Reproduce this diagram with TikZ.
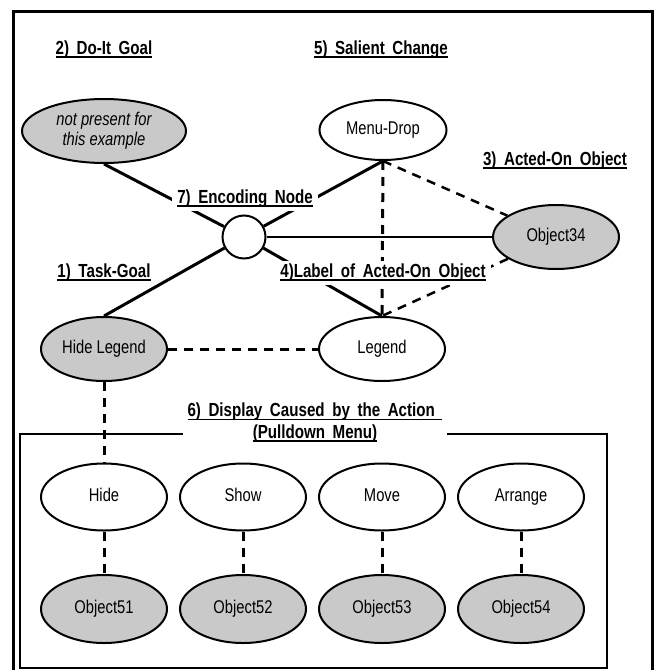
\documentclass[tikz,border=0pt]{standalone}
\usepackage{fontspec}
\setmainfont{Liberation Sans}[FakeStretch=0.8]
\newfontfamily\tagfont{Liberation Sans}[FakeStretch=0.8,WordSpace=1.8]
\usetikzlibrary{shapes.geometric,positioning}
\newcommand\tagline[1]{\setbox0\hbox{#1}\rlap{\rule[-3bp]{\wd0}{1.4bp}}\box0}
\tikzset{
  oval base/.style={ellipse,draw,line width=2bp,minimum width=126bp,minimum height=64bp,inner sep=0pt,align=center,font=\fontsize{18.5}{21}\selectfont},
  oval/.style={oval base,text height=13bp,text depth=4bp},
  grey oval/.style={oval,fill=black!21},
  white oval/.style={oval,fill=white},
  enc node/.style={circle,draw,fill=white,line width=2bp,minimum size=43bp,inner sep=0pt},
  tag/.style={fill=white,inner xsep=5bp,inner ysep=3bp,align=center,font=\tagfont\bfseries\fontsize{19}{22}\selectfont},
  link/.style={line width=3bp},
  dlink/.style={line width=3bp,dash pattern=on 9bp off 7bp},
}

\begin{document}
\begin{tikzpicture}[x=1bp,y=-1bp]
	\useasboundingbox (0,0) rectangle (655,670);
	\draw[line width=3bp] (13,12) rectangle (652,690);
	\draw[line width=2bp] (20,434) rectangle (607,668);

	\node[oval base,fill=black!21,minimum width=164bp,font=\fontsize{18.5}{20.5}\selectfont\itshape] (doit) at (104,131) {not present for\\ this example};
	\node[white oval,minimum width=127bp,minimum height=60bp] (menudrop) at (383,130) {Menu-Drop};
	\node[enc node] (enc) at (244,237) {};
	\node[grey oval] (obj34) at (556,237) {Object34};
	\node[grey oval] (hidelegend) at (104,349) {Hide Legend};
	\node[white oval] (legend) at (382,349) {Legend};

	\node[white oval,minimum height=67bp] (hide) at (104,497) {Hide};
	\node[white oval,minimum height=67bp] (show) at (243,497) {Show};
	\node[white oval,minimum height=67bp] (move) at (382,497) {Move};
	\node[white oval,minimum height=67bp] (arrange) at (521,497) {Arrange};
	\node[grey oval,minimum height=68bp] (obj51) at (104,609) {Object51};
	\node[grey oval,minimum height=68bp] (obj52) at (243,609) {Object52};
	\node[grey oval,minimum height=68bp] (obj53) at (382,609) {Object53};
	\node[grey oval,minimum height=68bp] (obj54) at (521,609) {Object54};

	\draw[link] (enc) -- (doit.south);
	\draw[link] (enc) -- (menudrop.south);
	\draw[link] (enc) -- (hidelegend.north);
	\draw[link] (enc) -- (legend.north);
	\draw[line width=2bp] (enc) -- (obj34);
	\draw[dlink] (menudrop.south) -- (legend.north);
	\draw[dlink,line width=2.5bp] (menudrop.south) -- (obj34);
	\draw[dlink,line width=2.5bp] (obj34) -- (legend.north);
	\draw[dlink] (hidelegend) -- (legend);
	\draw[dlink] (hidelegend) -- (hide);
	\draw[dlink] (hide) -- (obj51);
	\draw[dlink] (show) -- (obj52);
	\draw[dlink] (move) -- (obj53);
	\draw[dlink] (arrange) -- (obj54);

	\node[tag] (goal2) at (104,50) {\tagline{2) Do-It Goal}};
	\node[tag] (goal5) at (381,50) {\tagline{5) Salient Change}};
	\node[tag] (goal3) at (555,161) {\tagline{3) Acted-On Object}};
	\node[tag] (goal7) at (245,199) {\tagline{7) Encoding Node}};
	\node[tag] (goal1) at (104,273) {\tagline{1) Task-Goal}};
	\node[tag] (goal4) at (383,273) {\tagline{4)Label of Acted-On Object}};
	\node[tag] (goal6) at (315,423) {\tagline{6) Display Caused by the Action\ }\\ \tagline{(Pulldown Menu)}};
\end{tikzpicture}
\end{document}
